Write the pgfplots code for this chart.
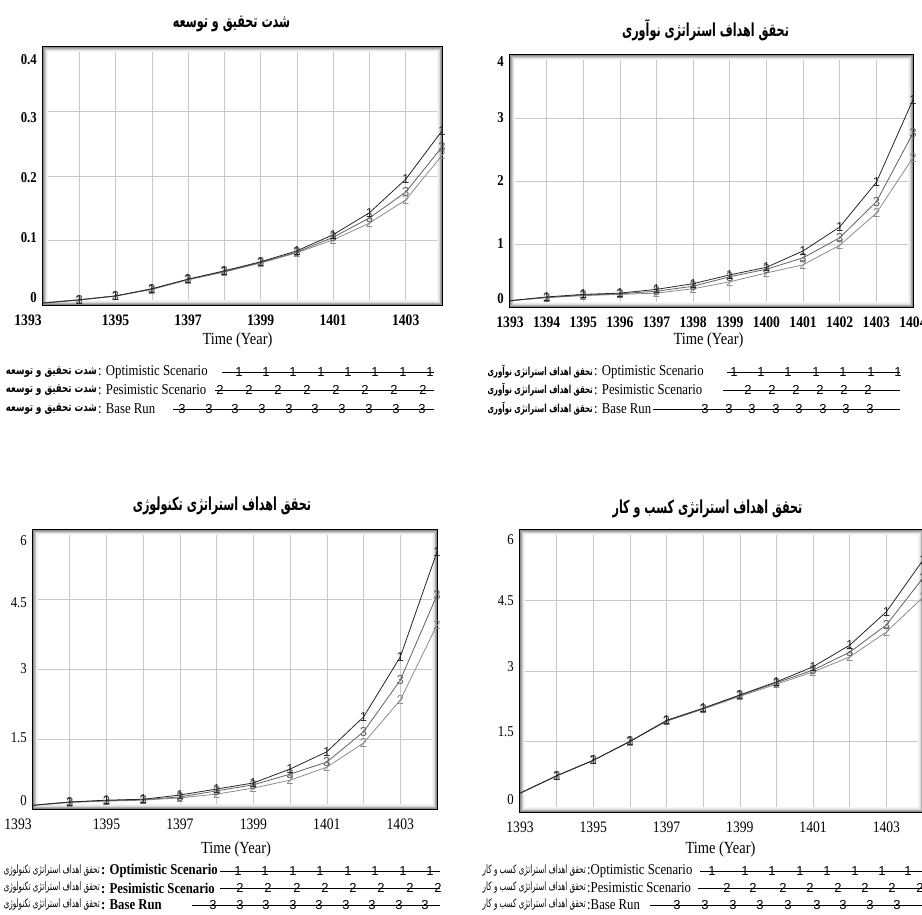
\documentclass[border=0pt]{standalone}
\usepackage{fontspec}
\setmainfont[FakeStretch=0.85]{Liberation Serif}
\newfontfamily\fatitle[Script=Arabic,FakeStretch=0.62]{DejaVu Sans}
\newfontfamily\falegA[Script=Arabic,FakeStretch=0.72]{DejaVu Sans}
\newfontfamily\falegB[Script=Arabic,FakeStretch=0.64]{DejaVu Sans}
\newfontfamily\falegC[Script=Arabic,FakeStretch=0.62]{DejaVu Sans}
\newfontfamily\digitfont{Liberation Sans}
\TeXXeTstate=1
\usepackage{pgfplots}
\usepackage{pgfplotstable}
\pgfplotsset{compat=1.18}

\pgfplotstableread{
year s1 s2 s3
1393 0.003 0.003 0.003
1394 0.008 0.008 0.008
1395 0.014 0.014 0.014
1396 0.025 0.024 0.025
1397 0.040 0.039 0.040
1398 0.053 0.051 0.052
1399 0.067 0.065 0.066
1400 0.084 0.081 0.082
1401 0.109 0.101 0.105
1402 0.143 0.127 0.135
1403 0.195 0.163 0.175
1404 0.270 0.232 0.245
}\dataA

\pgfplotstableread{
year s1 s2 s3
1393 0.10 0.10 0.10
1394 0.16 0.15 0.15
1395 0.20 0.18 0.19
1396 0.22 0.20 0.21
1397 0.28 0.22 0.25
1398 0.37 0.29 0.33
1399 0.51 0.40 0.48
1400 0.63 0.54 0.60
1401 0.89 0.67 0.78
1402 1.27 0.98 1.10
1403 1.98 1.49 1.67
1404 3.29 2.37 2.76
}\dataB

\pgfplotstableread{
year s1 s2 s3
1393 0.08 0.08 0.08
1394 0.15 0.14 0.15
1395 0.19 0.17 0.18
1396 0.21 0.19 0.20
1397 0.30 0.24 0.26
1398 0.43 0.32 0.39
1399 0.56 0.45 0.52
1400 0.86 0.62 0.75
1401 1.23 0.90 1.01
1402 1.98 1.42 1.66
1403 3.27 2.34 2.77
1404 5.53 3.96 4.60
}\dataC

\pgfplotstableread{
year s1 s2 s3
1393 0.40 0.40 0.40
1394 0.77 0.77 0.77
1395 1.10 1.10 1.10
1396 1.50 1.50 1.50
1397 1.95 1.93 1.94
1398 2.21 2.19 2.20
1399 2.49 2.46 2.48
1400 2.77 2.72 2.75
1401 3.09 2.98 3.02
1402 3.55 3.30 3.40
1403 4.26 3.83 3.98
1404 5.36 4.57 4.98
}\dataD

\newcommand\innershadowcode{%
  \foreach \d/\c in {0.75/45,1.5/32,2.25/22,3/14,3.75/8,4.5/4}{%
    \draw[black!\c, line width=0.8pt] ([xshift=\d pt, yshift=\d pt]rel axis cs:0,0) rectangle ([xshift=-\d pt, yshift=-\d pt]rel axis cs:1,1);
  }}

\pgfplotsset{
  panel/.style={scale only axis, anchor=north west, xmin=1393, xmax=1404, ymin=0,
    grid=both, grid style={black!22, line width=0.6pt},
    major tick length=0pt, minor tick length=0pt,
    axis line style={line width=1.5pt, black},
    clip mode=individual,
    xticklabel style={inner sep=0pt, yshift=-10pt, font=\bfseries\fontsize{16}{16}\selectfont},
    yticklabel style={inner sep=0pt, xshift=-6pt, font=\bfseries\fontsize{15}{15}\selectfont},
    extra y tick style={grid=none},
    title style={inner sep=0pt, anchor=south, at={(0.5,1)}, font=\fatitle\bfseries\fontsize{18}{18}\selectfont},
    xlabel style={inner sep=0pt, anchor=north, at={(0.5,0)}, font=\fontsize{17}{17}\selectfont},
  },
  ser/.style 2 args={#1, line width=0.8pt, mark=text, text mark={#2}, mark repeat=1, mark phase=2,
    text mark as node=true, mark options={#1},
    text mark style={font=\digitfont\fontsize{13}{13}\selectfont, inner sep=0pt, anchor=center}},
  s1/.style={ser={black!85}{1}},
  s2/.style={ser={black!45}{2}},
  s3/.style={ser={black!62}{3}},
  legline/.style={black, line width=0.8pt, mark=none},
  legmark/.style={only marks, mark=text, text mark={#1}, text mark as node=true, mark options={black},
    text mark style={font=\digitfont\fontsize{13}{13}\selectfont, inner sep=0pt, anchor=center}},
}

\begin{document}
\begin{tikzpicture}
\useasboundingbox (0pt,0pt) rectangle (922pt,-915pt);

% Panel 1
\begin{axis}[panel, at={(43pt,-47pt)}, width=399pt, height=258pt, ymax=0.4,
  xtick={1393,1395,...,1403}, minor xtick={1394,1396,...,1404},
  xticklabels={{\makebox[0pt]{\hspace*{-30pt}1393}},1395,1397,1399,1401,1403},
  ytick={0,0.1,0.2,0.3,0.4}, yticklabels={,,,,},
  extra y ticks={0.012,0.104,0.197,0.29,0.38}, extra y tick labels={0,0.1,0.2,0.3,0.4},
  title={\beginR شدت تحقیق و توسعه\endR}, title style={xshift=-11pt, yshift=9pt},
  xlabel={Time (Year)}, xlabel style={xshift=-5pt, yshift=-28pt}]
\pgfplotsextra{\innershadowcode}
\addplot[s2] table[x=year,y=s2]{\dataA};
\addplot[s3] table[x=year,y=s3]{\dataA};
\addplot[s1] table[x=year,y=s1]{\dataA};
\end{axis}

% Panel 2
\begin{axis}[panel, at={(510pt,-55pt)}, width=403pt, height=252pt, ymax=4,
  xtick={1393,1394,...,1404},
  xticklabels={1393,1394,1395,1396,1397,1398,1399,1400,1401,1402,1403,1404},
  ytick={0,1,2,3,4}, yticklabels={,,,,},
  extra y ticks={0.14,1,2,3,3.89}, extra y tick labels={0,1,2,3,4},
  title={\beginR تحقق اهداف استراتژی نوآوری\endR}, title style={xshift=-6pt, yshift=8pt},
  xlabel={Time (Year)}, xlabel style={xshift=-3pt, yshift=-26pt}]
\pgfplotsextra{\innershadowcode}
\addplot[s2] table[x=year,y=s2]{\dataB};
\addplot[s3] table[x=year,y=s3]{\dataB};
\addplot[s1] table[x=year,y=s1]{\dataB};
\end{axis}

% Panel 3
\begin{axis}[panel, at={(33pt,-530pt)}, width=404pt, height=279pt, ymax=6,
  xtick={1393,1395,...,1403}, minor xtick={1394,1396,...,1404},
  xticklabels={{\makebox[0pt]{\hspace*{-30pt}1393}},1395,1397,1399,1401,1403},
  xticklabel style={font=\fontsize{16}{16}\selectfont},
  yticklabel style={font=\fontsize{15}{15}\selectfont},
  ytick={0,1.5,3,4.5,6}, yticklabels={,,,,},
  extra y ticks={0.19,1.53,3.01,4.43,5.78}, extra y tick labels={0,1.5,3,4.5,6},
  title={\beginR تحقق اهداف استراتژی تکنولوژی\endR}, title style={xshift=-13pt, yshift=9pt},
  xlabel={Time (Year)}, xlabel style={xshift=1pt, yshift=-33pt}]
\pgfplotsextra{\innershadowcode}
\addplot[s2] table[x=year,y=s2]{\dataC};
\addplot[s3] table[x=year,y=s3]{\dataC};
\addplot[s1] table[x=year,y=s1]{\dataC};
\end{axis}

% Panel 4
\begin{axis}[panel, at={(520pt,-530pt)}, width=403pt, height=282pt, ymax=6,
  xtick={1393,1395,...,1403}, minor xtick={1394,1396,...,1404},
  xticklabels={1393,1395,1397,1399,1401,1403},
  xticklabel style={font=\fontsize{16}{16}\selectfont},
  yticklabel style={font=\fontsize{15}{15}\selectfont},
  ytick={0,1.5,3,4.5,6}, yticklabels={,,,,},
  extra y ticks={0.26,1.72,3.09,4.49,5.79}, extra y tick labels={0,1.5,3,4.5,6},
  title={\beginR تحقق اهداف استراتژی کسب و کار\endR}, title style={xshift=-14pt, yshift=6pt},
  xlabel={Time (Year)}, xlabel style={xshift=-1pt, yshift=-30pt}]
\pgfplotsextra{\innershadowcode}
\addplot[s2] table[x=year,y=s2]{\dataD};
\addplot[s3] table[x=year,y=s3]{\dataD};
\addplot[s1] table[x=year,y=s1]{\dataD};
\end{axis}

% Legends (pixel coordinate overlay)
\begin{axis}[scale only axis, width=922pt, height=915pt, at={(0pt,0pt)}, anchor=north west,
  xmin=0, xmax=922, ymin=0, ymax=915, y dir=reverse, hide axis, clip=false]
% --- panel 1 legend
\node[anchor=east, inner sep=0pt, font=\falegA\bfseries\fontsize{12}{12}\selectfont] at (axis cs:97,372) {\beginR شدت تحقیق و توسعه\endR};
\node[anchor=east, inner sep=0pt, font=\falegA\bfseries\fontsize{12}{12}\selectfont] at (axis cs:97,390) {\beginR شدت تحقیق و توسعه\endR};
\node[anchor=east, inner sep=0pt, font=\falegA\bfseries\fontsize{12}{12}\selectfont] at (axis cs:97,409) {\beginR شدت تحقیق و توسعه\endR};
\node[anchor=west, inner sep=0pt, font=\fontsize{15}{15}\selectfont] at (axis cs:98,372) {: Optimistic Scenario};
\node[anchor=west, inner sep=0pt, font=\fontsize{15}{15}\selectfont] at (axis cs:98,390) {: Pesimistic Scenario};
\node[anchor=west, inner sep=0pt, font=\fontsize{15}{15}\selectfont] at (axis cs:98,409) {: Base Run};
\addplot[legline] coordinates {(222,372) (434,372)};
\addplot[legmark=1] coordinates {(239,372) (266,372) (293,372) (321,372) (348,372) (375,372) (403,372) (430,372)};
\addplot[legline] coordinates {(215,390) (434,390)};
\addplot[legmark=2] coordinates {(220,390) (249,390) (278,390) (307,390) (336,390) (365,390) (394,390) (423,390)};
\addplot[legline] coordinates {(173,409) (434,409)};
\addplot[legmark=3] coordinates {(182,409) (209,409) (235,409) (262,409) (289,409) (315,409) (342,409) (369,409) (396,409) (422,409)};
% --- panel 2 legend
\node[anchor=east, inner sep=0pt, font=\falegB\bfseries\fontsize{11}{11}\selectfont] at (axis cs:593,372) {\beginR تحقق اهداف استراتژی نوآوری\endR};
\node[anchor=east, inner sep=0pt, font=\falegB\bfseries\fontsize{11}{11}\selectfont] at (axis cs:593,390) {\beginR تحقق اهداف استراتژی نوآوری\endR};
\node[anchor=east, inner sep=0pt, font=\falegB\bfseries\fontsize{11}{11}\selectfont] at (axis cs:593,409) {\beginR تحقق اهداف استراتژی نوآوری\endR};
\node[anchor=west, inner sep=0pt, font=\fontsize{15}{15}\selectfont] at (axis cs:594,372) {: Optimistic Scenario};
\node[anchor=west, inner sep=0pt, font=\fontsize{15}{15}\selectfont] at (axis cs:594,390) {: Pesimistic Scenario};
\node[anchor=west, inner sep=0pt, font=\fontsize{15}{15}\selectfont] at (axis cs:594,409) {: Base Run};
\addplot[legline] coordinates {(727,372) (900,372)};
\addplot[legmark=1] coordinates {(734,372) (761,372) (788,372) (816,372) (843,372) (871,372) (898,372)};
\addplot[legline] coordinates {(723,390) (900,390)};
\addplot[legmark=2] coordinates {(748,390) (772,390) (796,390) (820,390) (844,390) (868,390)};
\addplot[legline] coordinates {(653,409) (900,409)};
\addplot[legmark=3] coordinates {(705,409) (729,409) (752,409) (776,409) (799,409) (823,409) (846,409) (870,409)};
% --- panel 3 legend
\node[anchor=east, inner sep=0pt, font=\falegC\fontsize{11.5}{11.5}\selectfont] at (axis cs:100,871) {\beginR تحقق اهداف استراتژی تکنولوژی\endR};
\node[anchor=east, inner sep=0pt, font=\falegC\fontsize{11.5}{11.5}\selectfont] at (axis cs:100,888) {\beginR تحقق اهداف استراتژی تکنولوژی\endR};
\node[anchor=east, inner sep=0pt, font=\falegC\fontsize{11.5}{11.5}\selectfont] at (axis cs:100,905) {\beginR تحقق اهداف استراتژی تکنولوژی\endR};
\node[anchor=west, inner sep=0pt, font=\bfseries\fontsize{15}{15}\selectfont] at (axis cs:101,871) {: Optimistic Scenario};
\node[anchor=west, inner sep=0pt, font=\bfseries\fontsize{15}{15}\selectfont] at (axis cs:101,888) {: Pesimistic Scenario};
\node[anchor=west, inner sep=0pt, font=\bfseries\fontsize{15}{15}\selectfont] at (axis cs:101,905) {: Base Run};
\addplot[legline] coordinates {(220,871) (440,871)};
\addplot[legmark=1] coordinates {(238,871) (265,871) (293,871) (320,871) (348,871) (375,871) (403,871) (430,871)};
\addplot[legline] coordinates {(220,888) (440,888)};
\addplot[legmark=2] coordinates {(240,888) (268,888) (297,888) (325,888) (353,888) (381,888) (410,888) (438,888)};
\addplot[legline] coordinates {(192,905) (440,905)};
\addplot[legmark=3] coordinates {(213,905) (240,905) (266,905) (293,905) (319,905) (346,905) (372,905) (399,905) (425,905)};
% --- panel 4 legend
\node[anchor=east, inner sep=0pt, font=\falegC\fontsize{11.5}{11.5}\selectfont] at (axis cs:586,871) {\beginR تحقق اهداف استراتژی کسب و کار\endR};
\node[anchor=east, inner sep=0pt, font=\falegC\fontsize{11.5}{11.5}\selectfont] at (axis cs:586,888) {\beginR تحقق اهداف استراتژی کسب و کار\endR};
\node[anchor=east, inner sep=0pt, font=\falegC\fontsize{11.5}{11.5}\selectfont] at (axis cs:586,905) {\beginR تحقق اهداف استراتژی کسب و کار\endR};
\node[anchor=west, inner sep=0pt, font=\fontsize{15}{15}\selectfont] at (axis cs:587,871) {:Optimistic Scenario};
\node[anchor=west, inner sep=0pt, font=\fontsize{15}{15}\selectfont] at (axis cs:587,888) {:Pesimistic Scenario};
\node[anchor=west, inner sep=0pt, font=\fontsize{15}{15}\selectfont] at (axis cs:587,905) {:Base Run};
\addplot[legline] coordinates {(700,871) (925,871)};
\addplot[legmark=1] coordinates {(712,871) (745,871) (772,871) (800,871) (827,871) (855,871) (882,871) (908,871)};
\addplot[legline] coordinates {(698,888) (925,888)};
\addplot[legmark=2] coordinates {(727,888) (753,888) (783,888) (810,888) (838,888) (865,888) (892,888) (920,888)};
\addplot[legline] coordinates {(650,905) (925,905)};
\addplot[legmark=3] coordinates {(677,905) (705,905) (733,905) (760,905) (788,905) (817,905) (843,905) (870,905) (897,905)};
\end{axis}
\end{tikzpicture}
\end{document}
